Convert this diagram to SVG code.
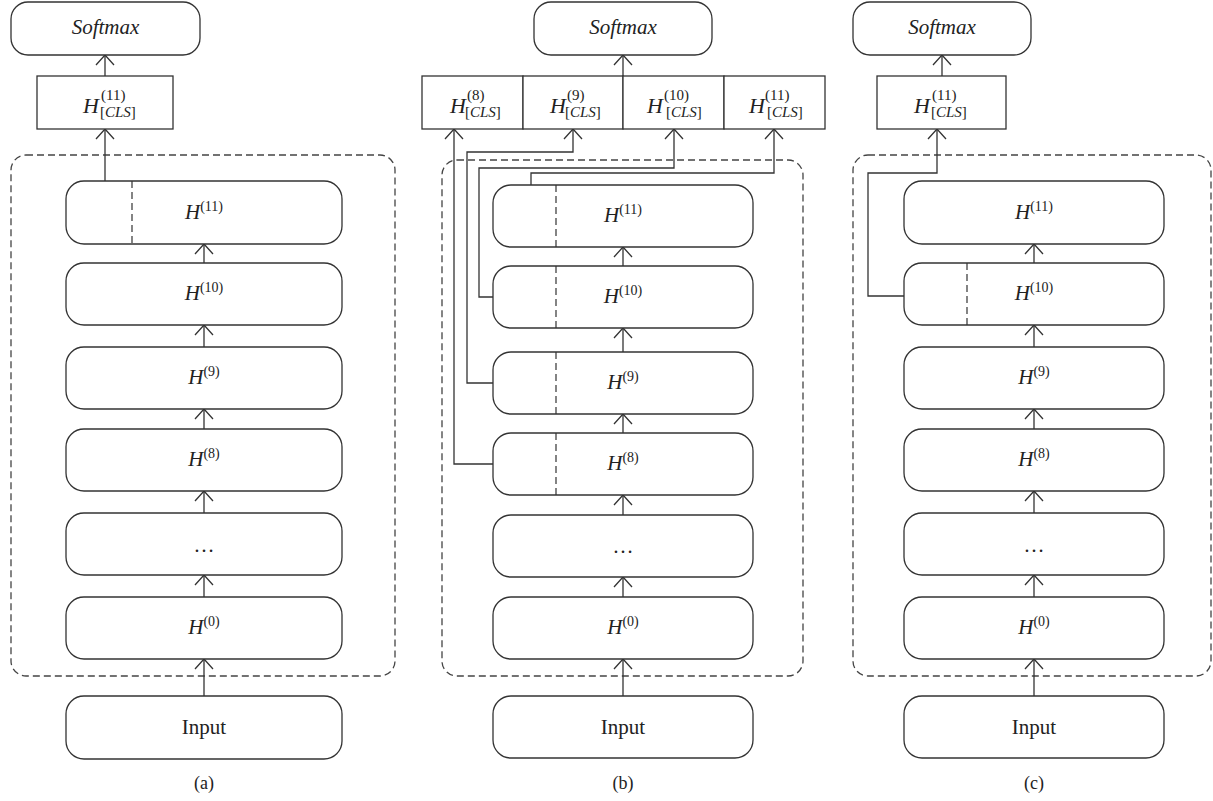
<svg xmlns="http://www.w3.org/2000/svg" width="1213" height="801" viewBox="0 0 1213 801">
<style>
.box{fill:#fff;stroke:#333;stroke-width:1.3}
.cont{fill:none;stroke:#444;stroke-width:1.3;stroke-dasharray:7 4}
.div{stroke:#333;stroke-width:1.2;stroke-dasharray:7 4}
.ln{fill:none;stroke:#333;stroke-width:1.3}
text{font-family:'Liberation Serif','Times New Roman','DejaVu Serif',serif;fill:#222}
.i{font-style:italic}
.lbl{font-size:21px;text-anchor:middle}
.sup{font-size:14px;font-style:normal}
.s{font-size:15px}
</style>
<defs>
<marker id="arr" viewBox="-1 -10 12 20" markerWidth="12" markerHeight="20" refX="10" refY="0" orient="auto" markerUnits="userSpaceOnUse" overflow="visible">
<path d="M0,-9 L10,0 L0,9" fill="none" stroke="#333" stroke-width="1.3"/>
</marker>
</defs>
<rect width="1213" height="801" fill="#fff"/>

<g id="containers">
<rect class="cont" x="11" y="155" width="384" height="521" rx="15"/>
<rect class="cont" x="442" y="160" width="361" height="516" rx="15"/>
<rect class="cont" x="853" y="155" width="358" height="521" rx="15"/>
</g>

<g id="connectors">
<line class="ln" x1="204" y1="696" x2="204" y2="659" marker-end="url(#arr)"/>
<line class="ln" x1="204" y1="597" x2="204" y2="575" marker-end="url(#arr)"/>
<line class="ln" x1="204" y1="513" x2="204" y2="491" marker-end="url(#arr)"/>
<line class="ln" x1="204" y1="429" x2="204" y2="409" marker-end="url(#arr)"/>
<line class="ln" x1="204" y1="347" x2="204" y2="325" marker-end="url(#arr)"/>
<line class="ln" x1="204" y1="263" x2="204" y2="244" marker-end="url(#arr)"/>
<line class="ln" x1="105" y1="181" x2="105" y2="129" marker-end="url(#arr)"/>
<line class="ln" x1="105" y1="76" x2="105" y2="55" marker-end="url(#arr)"/>
<line class="ln" x1="623" y1="696" x2="623" y2="659" marker-end="url(#arr)"/>
<line class="ln" x1="623" y1="597" x2="623" y2="577" marker-end="url(#arr)"/>
<line class="ln" x1="623" y1="515" x2="623" y2="495" marker-end="url(#arr)"/>
<line class="ln" x1="623" y1="433" x2="623" y2="414" marker-end="url(#arr)"/>
<line class="ln" x1="623" y1="352" x2="623" y2="328" marker-end="url(#arr)"/>
<line class="ln" x1="623" y1="266" x2="623" y2="247" marker-end="url(#arr)"/>
<line class="ln" x1="623" y1="76" x2="623" y2="55" marker-end="url(#arr)"/>
<path class="ln" d="M493,464 H454 V129" marker-end="url(#arr)"/>
<path class="ln" d="M493,383 H467 V152 H573 V129" marker-end="url(#arr)"/>
<path class="ln" d="M493,297 H479 V168 H674 V129" marker-end="url(#arr)"/>
<path class="ln" d="M531,185 V173 H774 V129" marker-end="url(#arr)"/>
<line class="ln" x1="1034" y1="696" x2="1034" y2="659" marker-end="url(#arr)"/>
<line class="ln" x1="1034" y1="597" x2="1034" y2="575" marker-end="url(#arr)"/>
<line class="ln" x1="1034" y1="513" x2="1034" y2="491" marker-end="url(#arr)"/>
<line class="ln" x1="1034" y1="429" x2="1034" y2="409" marker-end="url(#arr)"/>
<line class="ln" x1="1034" y1="347" x2="1034" y2="325" marker-end="url(#arr)"/>
<line class="ln" x1="1034" y1="263" x2="1034" y2="244" marker-end="url(#arr)"/>
<path class="ln" d="M904,296 H868 V173 H937 V129" marker-end="url(#arr)"/>
<line class="ln" x1="942" y1="76" x2="942" y2="55" marker-end="url(#arr)"/>
</g>

<g id="a-softmax"><rect class="box" x="11" y="2" width="189" height="53" rx="17"/><text class="i" x="105.5" y="34" font-size="21" text-anchor="middle">Softmax</text></g>
<g id="a-cls"><rect class="box" x="37" y="76" width="136" height="53"/>
<text class="i" x="83" y="113" font-size="22">H</text><text x="101" y="100" font-size="15">(11)</text><text class="s" x="100" y="117">[<tspan class="i">CLS</tspan>]</text></g>
<g id="a-h11"><rect class="box" x="66" y="181" width="276" height="63" rx="18"/><line class="div" x1="132" y1="181" x2="132" y2="244"/><text class="lbl" x="204" y="219"><tspan class="i">H</tspan><tspan class="sup" dy="-8">(11)</tspan></text></g>
<g id="a-h10"><rect class="box" x="66" y="263" width="276" height="62" rx="18"/><text class="lbl" x="204" y="300"><tspan class="i">H</tspan><tspan class="sup" dy="-8">(10)</tspan></text></g>
<g id="a-h9"><rect class="box" x="66" y="347" width="276" height="62" rx="18"/><text class="lbl" x="204" y="384"><tspan class="i">H</tspan><tspan class="sup" dy="-8">(9)</tspan></text></g>
<g id="a-h8"><rect class="box" x="66" y="429" width="276" height="62" rx="18"/><text class="lbl" x="204" y="466"><tspan class="i">H</tspan><tspan class="sup" dy="-8">(8)</tspan></text></g>
<g id="a-dots"><rect class="box" x="66" y="513" width="276" height="62" rx="18"/><text class="lbl" x="204" y="552">…</text></g>
<g id="a-h0"><rect class="box" x="66" y="597" width="276" height="62" rx="18"/><text class="lbl" x="204" y="634"><tspan class="i">H</tspan><tspan class="sup" dy="-8">(0)</tspan></text></g>
<g id="a-input"><rect class="box" x="66" y="696" width="276" height="63" rx="18"/><text class="lbl" x="204" y="734">Input</text></g>
<text x="204" y="789" font-size="18" text-anchor="middle">(a)</text>

<g id="b-softmax"><rect class="box" x="534" y="2" width="178" height="53" rx="17"/><text class="i" x="623" y="34" font-size="21" text-anchor="middle">Softmax</text></g>
<g id="b-cls8"><rect class="box" x="422" y="76" width="101" height="53"/>
<text class="i" x="450" y="113" font-size="22">H</text><text x="467" y="100" font-size="15">(8)</text><text class="s" x="465" y="117">[<tspan class="i">CLS</tspan>]</text></g>
<g id="b-cls9"><rect class="box" x="523" y="76" width="100" height="53"/>
<text class="i" x="550" y="113" font-size="22">H</text><text x="567" y="100" font-size="15">(9)</text><text class="s" x="565" y="117">[<tspan class="i">CLS</tspan>]</text></g>
<g id="b-cls10"><rect class="box" x="623" y="76" width="101" height="53"/>
<text class="i" x="647" y="113" font-size="22">H</text><text x="664" y="100" font-size="15">(10)</text><text class="s" x="666" y="117">[<tspan class="i">CLS</tspan>]</text></g>
<g id="b-cls11"><rect class="box" x="724" y="76" width="101" height="53"/>
<text class="i" x="749" y="113" font-size="22">H</text><text x="765" y="100" font-size="15">(11)</text><text class="s" x="767" y="117">[<tspan class="i">CLS</tspan>]</text></g>
<g id="b-h11"><rect class="box" x="493" y="185" width="260" height="62" rx="18"/><line class="div" x1="556" y1="185" x2="556" y2="247"/><text class="lbl" x="623" y="222"><tspan class="i">H</tspan><tspan class="sup" dy="-8">(11)</tspan></text></g>
<g id="b-h10"><rect class="box" x="493" y="266" width="260" height="62" rx="18"/><line class="div" x1="556" y1="266" x2="556" y2="328"/><text class="lbl" x="623" y="303"><tspan class="i">H</tspan><tspan class="sup" dy="-8">(10)</tspan></text></g>
<g id="b-h9"><rect class="box" x="493" y="352" width="260" height="62" rx="18"/><line class="div" x1="556" y1="352" x2="556" y2="414"/><text class="lbl" x="623" y="389"><tspan class="i">H</tspan><tspan class="sup" dy="-8">(9)</tspan></text></g>
<g id="b-h8"><rect class="box" x="493" y="433" width="260" height="62" rx="18"/><line class="div" x1="556" y1="433" x2="556" y2="495"/><text class="lbl" x="623" y="470"><tspan class="i">H</tspan><tspan class="sup" dy="-8">(8)</tspan></text></g>
<g id="b-dots"><rect class="box" x="493" y="515" width="260" height="62" rx="18"/><text class="lbl" x="623" y="553">…</text></g>
<g id="b-h0"><rect class="box" x="493" y="597" width="260" height="62" rx="18"/><text class="lbl" x="623" y="634"><tspan class="i">H</tspan><tspan class="sup" dy="-8">(0)</tspan></text></g>
<g id="b-input"><rect class="box" x="493" y="696" width="260" height="62" rx="18"/><text class="lbl" x="623" y="734">Input</text></g>
<text x="623" y="789" font-size="18" text-anchor="middle">(b)</text>

<g id="c-softmax"><rect class="box" x="853" y="2" width="178" height="53" rx="17"/><text class="i" x="942" y="34" font-size="21" text-anchor="middle">Softmax</text></g>
<g id="c-cls"><rect class="box" x="877" y="76" width="129" height="53"/>
<text class="i" x="914" y="113" font-size="22">H</text><text x="932" y="100" font-size="15">(11)</text><text class="s" x="931" y="117">[<tspan class="i">CLS</tspan>]</text></g>
<g id="c-h11"><rect class="box" x="904" y="181" width="260" height="63" rx="18"/><text class="lbl" x="1034" y="219"><tspan class="i">H</tspan><tspan class="sup" dy="-8">(11)</tspan></text></g>
<g id="c-h10"><rect class="box" x="904" y="263" width="260" height="62" rx="18"/><line class="div" x1="967" y1="263" x2="967" y2="325"/><text class="lbl" x="1034" y="300"><tspan class="i">H</tspan><tspan class="sup" dy="-8">(10)</tspan></text></g>
<g id="c-h9"><rect class="box" x="904" y="347" width="260" height="62" rx="18"/><text class="lbl" x="1034" y="384"><tspan class="i">H</tspan><tspan class="sup" dy="-8">(9)</tspan></text></g>
<g id="c-h8"><rect class="box" x="904" y="429" width="260" height="62" rx="18"/><text class="lbl" x="1034" y="466"><tspan class="i">H</tspan><tspan class="sup" dy="-8">(8)</tspan></text></g>
<g id="c-dots"><rect class="box" x="904" y="513" width="260" height="62" rx="18"/><text class="lbl" x="1034" y="552">…</text></g>
<g id="c-h0"><rect class="box" x="904" y="597" width="260" height="62" rx="18"/><text class="lbl" x="1034" y="634"><tspan class="i">H</tspan><tspan class="sup" dy="-8">(0)</tspan></text></g>
<g id="c-input"><rect class="box" x="904" y="696" width="260" height="62" rx="18"/><text class="lbl" x="1034" y="734">Input</text></g>
<text x="1034" y="789" font-size="18" text-anchor="middle">(c)</text>
</svg>
